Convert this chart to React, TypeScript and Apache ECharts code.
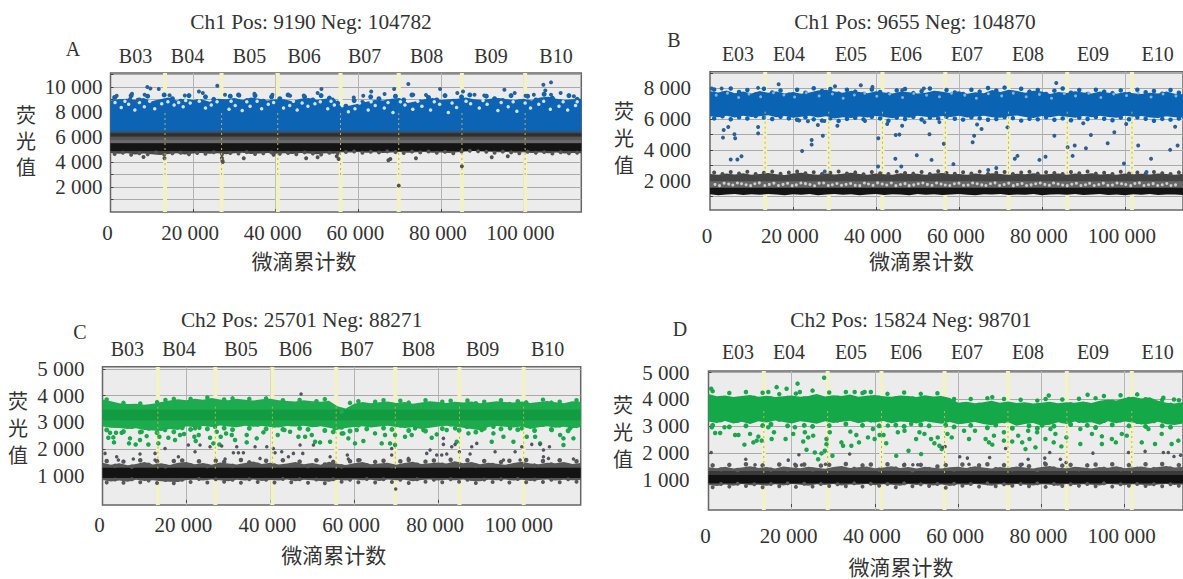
import React, { useEffect, useRef } from "react";
import * as echarts from "echarts";

// ---------- wells ----------
const wellsBF = ["B03", "B04", "B05", "B06", "B07", "B08", "B09", "B10"];
const wellsE = ["E03", "E04", "E05", "E06", "E07", "E08", "E09", "E10"];
const boundsAC = [13200, 26900, 40500, 55700, 69800, 85100, 100400];
const boundsBD = [13290, 28630, 41560, 56710, 71950, 86100, 101700];

// band edges: one value per 2 000 droplets, 0..114 000
const aBlueTop = [8900,9000,9050,8950,9100,8850,9000,9150,8900,9050,8950,9000,8800,9050,9000,9100,8950,9150,9050,8900,9000,9000,8850,9050,9100,8950,9050,9150,8350,8500,8650,8800,8950,8900,9050,9100,8700,8850,9000,9100,8950,9000,9050,9150,9000,8950,9050,9100,9000,8950,9050,8900,9150,9200,9050,8950,9000,9050];
const aGrayBottom = [4720,4650,4700,4600,4680,4620,4560,4640,4700,4590,4680,4720,4650,4700,4620,4690,4730,4640,4680,4710,4650,4700,4640,4720,4680,4610,4700,4650,4780,4760,4800,4740,4780,4720,4760,4800,4730,4770,4790,4740,4760,4720,4780,4830,4870,4840,4810,4770,4790,4740,4780,4720,4760,4700,4750,4680,4720,4700];

const bBlueTop = [7800,7720,7850,7680,7780,7650,7820,7700,7790,7660,7750,7640,7720,7850,7900,7780,7700,7840,7760,7680,7800,7720,7660,7790,7740,7650,7700,7830,7770,7690,7800,7640,7730,7680,7880,7760,7900,7820,7700,7840,7780,7620,7750,7690,7800,7720,7650,7780,7700,7640,7750,7680,7620,7700,7660,7780,7640,7600];
const bBlueBottom = [6180,6120,6210,6100,6220,6130,6180,6240,6120,6190,6080,6140,6220,6100,6180,6040,6120,6060,6160,6100,6200,6130,6050,6170,6090,6210,6150,6100,6190,6130,6220,6100,6170,6220,6120,6080,6180,6230,6130,6060,6190,6110,6220,6150,6080,6190,6120,6210,6130,6090,6220,6140,6190,6100,6060,6180,6120,6090];
const bGrayTop = [2430,2380,2460,2400,2480,2390,2440,2500,2420,2370,2460,2520,2430,2390,2470,2410,2450,2510,2430,2380,2460,2420,2390,2480,2430,2450,2380,2470,2500,2420,2440,2390,2460,2410,2480,2430,2380,2450,2420,2490,2410,2440,2470,2390,2460,2420,2480,2400,2440,2380,2470,2420,2450,2400,2460,2430,2390,2450];
const bBlackBottom = [1120,1060,1110,1140,1070,1120,1090,1130,1100,1060,1120,1090,1130,1060,1110,1130,1090,1120,1060,1110,1130,1080,1120,1100,1060,1130,1090,1120,1070,1110,1130,1090,1060,1120,1100,1130,1070,1110,1090,1130,1060,1110,1120,1090,1130,1070,1100,1130,1080,1110,1060,1120,1090,1130,1070,1110,1100,1080];

const cGreenTop = [3860,3790,3720,3690,3700,3660,3700,3760,3820,3870,3830,3880,3850,3910,3860,3830,3880,3850,3820,3870,3880,3830,3800,3780,3830,3790,3770,3810,3600,3520,3700,3760,3720,3750,3780,3730,3760,3700,3740,3790,3760,3730,3770,3740,3780,3720,3750,3790,3760,3740,3780,3730,3760,3800,3750,3720,3790,3770];
const cGreenBottom = [2850,2800,2790,2760,2780,2720,2700,2680,2760,2720,2860,2820,2870,2830,2890,2850,2820,2880,2840,2870,2830,2810,2870,2850,2880,2820,2860,2800,2730,2790,2830,2860,2810,2850,2880,2830,2790,2820,2760,2800,2850,2880,2840,2800,2760,2710,2830,2870,2840,2810,2850,2760,2820,2860,2800,2840,2780,2830];
const cGrayTop = [1500,1420,1480,1400,1450,1520,1430,1480,1410,1500,1520,1440,1490,1420,1510,1470,1430,1490,1540,1450,1500,1430,1470,1520,1440,1490,1420,1530,1460,1410,1480,1520,1440,1470,1500,1420,1490,1530,1450,1480,1510,1470,1550,1480,1520,1440,1500,1460,1420,1490,1530,1470,1440,1500,1480,1520,1450,1490];
const cGrayBottom = [850,800,830,790,860,820,840,810,790,780,850,860,830,870,840,810,860,830,870,820,850,830,870,810,860,840,820,790,860,830,870,840,860,820,870,840,860,810,850,870,830,860,840,870,820,810,860,840,870,830,860,820,850,870,830,860,840,850];

const dGreenTop = [4200,4120,4150,4090,4130,4170,4100,4140,4090,4120,4150,4100,4130,4200,4110,4160,4130,4190,4100,4140,4170,4120,4100,4150,4130,4090,4160,4110,4130,4060,3880,3920,3860,3900,3950,3880,3930,3870,3900,3850,3880,3920,3860,3900,3880,3930,3870,3950,4000,3960,4060,4100,4040,4080,3950,3880,3850,3900];
const dGreenBottom = [3180,3130,3200,3110,3170,3090,3190,3140,3220,3160,3110,3190,3150,3100,3190,3130,3170,3210,3120,3180,3140,3200,3120,3180,3160,3110,3190,3140,3100,3160,3080,3120,3160,3090,3040,3120,3150,3020,3090,3130,3020,3060,3150,3090,3180,3130,3150,3060,3190,3120,3180,3140,3070,3100,3170,3080,3050,3110];
const dGrayTop = [1480,1440,1500,1430,1470,1520,1450,1490,1430,1510,1470,1440,1500,1460,1420,1490,1530,1450,1480,1510,1440,1470,1520,1450,1490,1430,1500,1460,1430,1480,1500,1450,1520,1470,1430,1490,1450,1510,1470,1430,1490,1530,1460,1440,1500,1470,1430,1490,1460,1520,1440,1480,1510,1450,1490,1530,1470,1500];
const dGrayBottom = [820,780,840,790,860,810,830,790,850,800,860,830,790,850,820,860,800,840,830,860,810,850,830,790,860,820,850,800,840,780,850,820,860,830,790,850,810,860,830,800,850,830,790,860,820,850,830,800,860,840,810,850,830,790,840,860,820,840];

// droplets sitting on a band's fuzzy edge: one amplitude per 2 000 droplets, halfway between edge samples
const aBlueFringe = [9150,8800,9300,8950,9250,8700,9350,9050,8850,9300,8800,9200,9000,8700,9250,9350,8900,9300,8850,9200,9050,9350,8750,9200,8950,9300,9100,8700,8450,8900,8750,9200,9050,8800,9250,8950,9350,8800,9150,8950,9300,8850,9200,9350,8750,9250,9050,8900,9300,8800,9250,8950,9400,9100,8800,9300,9000];
const aGrayFringe = [4640,4740,4580,4700,4620,4760,4600,4690,4740,4620,4710,4660,4770,4620,4720,4680,4780,4640,4700,4750,4650,4720,4620,4760,4670,4600,4730,4690,4790,4830,4740,4810,4760,4840,4780,4720,4820,4760,4830,4730,4800,4690,4830,4890,4850,4810,4740,4820,4760,4700,4810,4730,4780,4670,4770,4700,4740];
const bBlueFringe = [7920,7650,7980,7750,7880,7600,7960,7720,7850,7580,7900,7700,8000,7820,7950,7650,7900,7780,7620,7920,7750,7600,7860,7950,7680,7800,7980,7650,7880,7720,7620,7900,7780,8010,7850,8040,7700,7960,7780,7880,7620,7840,7980,7700,7880,7620,7900,7780,7680,7860,7620,7900,7740,7820,7640,7880,7700];
const bBlueLow = [6040,6180,5990,6120,6030,6200,6090,6000,6150,6040,5950,6120,5980,5900,6050,5880,6010,6080,5980,6150,6040,5890,6090,6000,6140,5970,6090,6040,6150,6020,5960,6120,6050,5950,6000,6130,6060,5900,6020,5980,6120,5950,6040,5920,6090,6000,6130,6020,5920,6100,5990,6120,6020,5890,6010,5960,6030];
const bGrayFringe = [2530,2440,2560,2470,2580,2430,2510,2590,2450,2530,2600,2480,2550,2440,2520,2600,2470,2540,2420,2570,2490,2440,2590,2500,2460,2560,2430,2610,2500,2450,2550,2470,2590,2440,2510,2570,2430,2530,2580,2460,2550,2500,2440,2570,2480,2600,2460,2520,2430,2580,2470,2530,2450,2560,2490,2440,2540];
const cGreenFringe = [3860,3640,3730,3590,3710,3570,3760,3840,3880,3720,3880,3750,3930,3760,3860,3900,3730,3880,3760,3900,3740,3830,3690,3840,3670,3790,3870,3590,3400,3730,3790,3630,3770,3830,3660,3810,3740,3610,3830,3670,3770,3810,3650,3820,3720,3770,3650,3830,3690,3790,3750,3640,3850,3740,3770,3650,3830];
const cGreenLow = [2720,2900,2660,2850,2640,2780,2620,2840,2650,2800,2740,2920,2760,2950,2790,2730,2950,2780,2930,2760,2900,2740,2950,2780,2740,2920,2700,2650,2820,2680,2900,2760,2930,2790,2740,2900,2700,2870,2680,2920,2770,2940,2710,2860,2640,2780,2920,2760,2890,2730,2910,2700,2920,2740,2900,2690,2880];
const cGrayFringe = [1560,1380,1540,1350,1590,1420,1550,1360,1560,1580,1400,1550,1370,1570,1530,1380,1600,1510,1420,1570,1390,1590,1400,1540,1370,1590,1430,1530,1360,1550,1590,1400,1530,1570,1370,1550,1600,1420,1540,1580,1420,1610,1430,1590,1390,1560,1410,1520,1570,1410,1600,1390,1560,1430,1590,1400,1550];
const cGrayLow = [760,870,750,880,770,830,740,850,730,860,780,890,760,880,790,860,750,880,780,860,760,890,770,880,750,870,730,880,790,860,770,890,760,880,780,860,740,880,790,860,770,880,790,860,740,870,780,880,760,890,770,870,780,860,770,880,790];
const dGreenFringe = [4310,4030,4240,4020,4280,4060,4250,4040,4200,4060,4220,4040,4330,4040,4260,4060,4280,4030,4240,4280,4060,4210,4040,4260,4040,4210,4030,4230,3980,4020,3810,4020,3800,4050,3820,4020,3800,3990,3790,3960,4020,3790,4000,3820,4030,3800,4050,4130,3920,4160,4020,4190,4010,3880,3980,3800,3970];
const dGreenLow = [3040,3240,2980,3220,3020,3250,3030,3080,3260,3020,3270,3040,3000,3250,3030,3230,3090,3270,3040,3230,3020,3250,3050,3000,3240,3060,3020,3250,3050,2980,3200,3040,3230,2950,3050,3210,2930,3180,3020,2930,3200,3010,3210,3070,3220,3040,2960,3220,3060,3240,3020,3180,3000,3210,3020,2970,3180];
const dGrayFringe = [1550,1400,1570,1380,1590,1430,1550,1390,1580,1400,1540,1580,1390,1540,1570,1410,1600,1420,1550,1580,1390,1590,1430,1560,1370,1570,1410,1510,1560,1390,1580,1410,1550,1590,1410,1560,1400,1570,1520,1380,1590,1430,1540,1570,1400,1550,1580,1420,1590,1400,1560,1420,1590,1410,1600,1430,1560];
const dGrayLow = [740,860,760,870,780,850,740,860,770,880,750,870,760,860,780,850,770,880,760,870,790,860,740,880,770,850,780,860,720,870,790,860,760,880,770,850,790,860,770,880,750,860,780,850,790,860,770,880,760,850,790,860,780,850,770,850,790];

// droplets readable outside the bands: [count, amplitude]
const aPosDots = [[8910,9980],[9650,9870],[11690,9820],[5210,9450],[8270,9370],[4740,9020],[6600,8970],[21420,9630],[22350,9500],[25870,10090],[27720,9370],[34860,9450],[39210,9370],[51070,9820],[50150,9500],[63120,9630],[68680,9820],[66360,9420],[72110,10220],[79800,9820],[73310,9370],[83970,9500],[85360,9630],[88140,9370],[95370,9770],[97870,9500],[104820,10170],[106670,10350],[105280,9710],[106670,9370],[108990,9500],[102500,9370],[1500,9280],[14300,9330],[18000,9310],[31200,9300],[43500,9290],[46800,9300],[58900,9150],[61200,9280],[76400,9340],[90500,9300],[100500,9290],[112200,9250]];
const aGapDots = [[2600,8350],[4400,8600],[5900,8150],[8200,8400],[10700,8250],[12400,8650],[15400,8550],[16500,8750],[17600,8400],[19300,8700],[23000,8300],[24400,8550],[28700,8200],[30200,8500],[31900,8100],[33800,8450],[36600,8250],[38200,8600],[41900,8300],[43400,8500],[45200,8150],[47800,8450],[49500,8650],[52600,8250],[54200,8550],[57600,8000],[59200,8250],[62400,8150],[64100,8500],[66300,8300],[68400,7950],[71300,8550],[73200,8200],[75400,8450],[77500,8150],[79700,8600],[81800,7950],[83800,8350],[87200,8650],[89300,8300],[91200,8600],[93800,8100],[96300,8400],[98400,8050],[101700,8300],[103700,8600],[106500,8200],[108600,8450],[110700,8150],[112600,8500],
[1100,8750],[3500,8850],[7000,8750],[9500,8850],[13900,8800],[18200,8900],[21500,8850],[25800,8800],[29200,8850],[33000,8800],[35500,8850],[39500,8750],[44300,8850],[46400,8700],[50800,8800],[53400,8850],[60300,8700],[63100,8800],[67200,8750],[70200,8800],[74400,8850],[78400,8800],[82700,8700],[86100,8850],[90200,8900],[94600,8750],[97500,8800],[100400,8700],[104900,8850],[109600,8800],[113000,8800]];
const aNegDots = [[7990,4394],[13080,4288],[26980,4314],[27170,3995],[27100,4100],[32270,4288],[47370,4288],[50150,4367],[55240,4234],[67750,4234],[67290,4128],[73960,4288],[85080,3650],[69800,2106],[92310,4367],[96200,4447],[39490,4580],[54780,4447]];

const bPosDots = [[3300,5290],[4400,5480],[3130,4795],[5890,5010],[6070,4750],[5000,3380],[6600,3380],[7590,3590],[11600,5480],[11600,5070],[22200,3930],[24500,4640],[24500,4340],[27200,4920],[26000,5610],[27550,5870],[30700,5570],[37360,5870],[40570,4750],[40500,2920],[42700,5680],[44760,4970],[45650,4990],[46300,5570],[44670,3420],[46100,2920],[49840,3650],[51700,5800],[52900,5010],[53400,3350],[55280,5800],[56350,4390],[58670,3075],[63300,4490],[63660,4920],[64370,5650],[65450,5350],[67050,2690],[69000,2820],[71700,5460],[74100,3610],[73460,3420],[79400,3350],[80870,3550],[83000,4920],[83450,8340],[86200,4170],[87900,4280],[87400,3610],[90600,4100],[91800,4970],[89960,5720],[95850,4430],[97450,5140],[99770,3120],[100300,5680],[103200,4280],[106300,3420],[105200,2560],[110900,4000],[112700,4280],[112100,5500],[16540,8256],[30120,8130],[36350,8190],[39150,8085],[400,7977],[2800,7977],[11580,8020],[51530,7977],[46340,7870],[27650,2600],[21500,5900],[23600,5850]];
const bGapDots = [[1500,7550],[4200,7680],[6900,7400],[9400,7620],[12200,7450],[15300,7700],[17800,7560],[20400,7430],[23200,7700],[26300,7500],[29500,7620],[32100,7350],[34800,7560],[37300,7680],[40200,7480],[43300,7620],[46400,7400],[49100,7660],[52200,7540],[55300,7450],[58200,7680],[61400,7550],[64200,7350],[67100,7640],[70300,7500],[73100,7680],[76200,7450],[79400,7600],[82300,7350],[85400,7650],[88100,7500],[91300,7680],[94200,7400],[97300,7620],[100400,7520],[103200,7690],[106300,7430],[109200,7620],[112300,7500]];
const bMidGaps = [[1200,1760],[3400,1840],[5500,1720],[7600,1800],[9800,1680],[11900,1860],[14300,1760],[16500,1690],[18700,1830],[20800,1730],[23000,1810],[25200,1670],[27400,1850],[29500,1740],[31700,1700],[33900,1820],[36100,1680],[38200,1790],[40400,1860],[42600,1720],[44800,1680],[47000,1810],[49100,1730],[51300,1850],[53500,1700],[55700,1780],[57800,1690],[60000,1840],[62200,1720],[64400,1800],[66500,1690],[68700,1860],[70900,1750],[73100,1680],[75200,1820],[77400,1730],[79600,1850],[81800,1700],[83900,1790],[86100,1680],[88300,1830],[90500,1740],[92600,1690],[94800,1840],[97000,1720],[99200,1800],[101400,1680],[103500,1860],[105700,1740],[107900,1690],[110100,1820],[112200,1730],
[2300,1680],[4500,1780],[6600,1850],[8700,1740],[10800,1800],[13200,1690],[15400,1840],[17600,1760],[19800,1680],[21900,1850],[24100,1750],[26300,1840],[28500,1690],[30600,1820],[32800,1760],[35000,1700],[37200,1850],[39300,1700],[41500,1790],[43700,1850],[45900,1750],[48000,1680],[50200,1800],[52400,1760],[54600,1850],[56700,1720],[58900,1800],[61100,1700],[63300,1850],[65500,1730],[67600,1800],[69800,1690],[72000,1840],[74100,1760],[76300,1690],[78500,1800],[80700,1760],[82800,1850],[85000,1720],[87200,1770],[89400,1690],[91500,1830],[93700,1750],[95900,1700],[98100,1850],[100200,1750],[102400,1820],[104600,1690],[106800,1810],[109000,1740],[111100,1690]];

const cGreenDots = [[1790,2617],[2580,2443],[3220,2617],[4570,2617],[1390,2430],[2740,2256],[6560,2406],[6320,2220],[7910,2180],[9340,2655],[10530,2490],[8940,2343],[10930,2180],[13560,2468],[14910,2717],[15700,2430],[13320,2220],[18480,2530],[17290,2343],[19440,2567],[22060,2780],[21900,2468],[23100,2800],[22940,2530],[22220,2306],[25640,2430],[26830,2840],[27230,2655],[28180,2468],[29460,2590],[26430,2220],[27870,2180],[30810,2530],[31600,2343],[34380,2530],[34380,2256],[38360,2630],[36770,2406],[41780,2530],[43370,2717],[44720,2655],[46700,2468],[48300,2468],[49890,2530],[50680,2281],[51870,2256],[54260,2281],[55450,2780],[57040,2590],
[57420,2592],[58610,2406],[60200,2219],[60600,2717],[62190,2306],[64970,2592],[66560,2219],[67350,2530],[68550,2219],[69740,2530],[69740,2157],[72120,2468],[73710,2530],[74510,2779],[76500,2717],[79680,2555],[78480,2430],[82060,2717],[84050,2779],[84450,2281],[86830,2841],[87230,2592],[90410,2717],[93190,2841],[93190,2592],[92790,2281],[95580,2468],[97170,2779],[97960,2281],[99950,2779],[101140,2468],[103130,2468],[104320,2219],[107100,2717],[109090,2530],[109890,2406],[111480,2779],[112270,2406],[109890,2157]];
const cDarkDots = [[600,1846],[3380,1721],[3780,1597],[8940,1821],[7350,1634],[12520,1846],[12520,1597],[14910,2032],[18090,1721],[22060,1908],[25640,2095],[29220,1634],[31200,1871],[32400,1871],[33590,1871],[37560,1659],[40740,2032],[41140,1871],[42730,1908],[44320,1721],[45510,1846],[47740,1846],[47100,2157],[50280,2157],[54260,1721],[20470,2157],[23250,2157],[28420,2120],[32000,2095],[36370,2095],[39160,2095],[47340,4060],[58370,1784],[58610,1634],[61390,1597],[68940,2032],[68940,1784],[72920,1659],[77290,1846],[78090,1970],[79680,1784],[80870,1784],[82060,1821],[83250,2095],[84050,2182],[85080,1908],[87630,1821],[89220,2219],[93590,1908],[95580,1597],[98360,1908],[99550,1597],[99950,2095],[102330,2182],[105120,1970],[105120,1721],[106310,1659],[104320,2182],[106550,2095],[112270,1634],[69900,515],[81270,2406],[81270,2182],[88020,2095]];

const dGreenDots = [[650,4400],[16370,4460],[18760,4400],[21400,4590],[27780,4810],[14370,4280],[37510,4280],[35120,4280],[21950,4280],[810,2970],[1600,2755],[2800,2755],[3840,2970],[6390,2680],[7190,2680],[9980,2720],[8630,2320],[10780,2405],[11980,2620],[11580,2470],[12780,2470],[14370,2970],[15730,2780],[15170,2530],[18520,2530],[20360,2720],[20760,2970],[23150,2780],[22750,2440],[23950,2590],[25150,2655],[23550,2130],[25540,2030],[27140,1995],[26340,1780],[28340,2340],[29140,2780],[28340,2530],[27940,2095],[29770,1910],[31930,2405],[32330,2280],[34320,2280],[34080,2805],[35520,2680],[36160,2405],[38310,2590],[39910,2530],[41110,2680],[42060,2680],[42700,2370],[39510,2905],[43100,3030],[45490,2780],[47090,2840],[48690,3090],[49880,2530],[50680,2780],[51880,2720],[53470,2530],[55070,2590],[54270,2370],[55470,2280],[56030,2155],[48050,2095],[45100,1905],[51080,1970],
[57410,2720],[58440,2590],[61400,2840],[62590,2530],[64030,2840],[66580,2530],[67380,2405],[68180,2320],[68580,2655],[70970,2780],[70970,2470],[72970,2440],[74400,2655],[75360,2405],[76160,2155],[76800,2840],[77120,2530],[78950,2780],[78550,2220],[80150,3030],[80950,2530],[82150,2905],[83340,2720],[82940,2405],[84780,2255],[85970,2590],[89330,2345],[89330,2905],[92120,2720],[94510,2630],[94510,2345],[96910,2530],[97870,2405],[99300,2720],[100500,2655],[104090,2405],[107280,2345],[105690,2905],[108880,2720],[111270,2345],[112870,2470],[81750,4150],[91080,4175],[109280,4065],[111830,4000],[68180,4090]];
const dDarkDots = [[650,2030],[8950,1780],[19160,1745],[21710,1945],[33920,1970],[20760,1595],[22350,1560],[11180,1570],[47090,1595],[49090,1570],[50280,1570],[28100,1595],[56210,2220],[56850,2255],[60360,1870],[62200,1820],[62590,1595],[67540,1845],[71370,2180],[76800,1780],[80790,1820],[80790,1635],[75360,1595],[81980,2030],[84540,1780],[85900,1660],[92360,2005],[100900,2030],[104890,2070],[109280,2030],[110470,2030],[111830,1880],[113430,1930]];

// ---------- layout ----------
const FONT = '"Liberation Serif", "Noto Sans CJK SC", serif';
const INK = "#333333";
const STEP = 2000;
const fmt = (v: number) => String(v).replace(/\B(?=(\d{3})+$)/g, " ");
const fringe = (vals: number[]) => vals.map((y, k) => [k * STEP + STEP / 2, y]);

type Band = { low: number[] | number; high: number[] | number; color: string; opacity?: number };
type Panel = {
  grid: { left: number; top: number; width: number; height: number };
  yRange: [number, number];
  yTicks: number[];
  yLabels: number[];
  xLabelGap: number;
  yLabelGap: number;
  bounds: number[];
  bands: Band[];
  dots: { data: number[][]; color: string; size: number }[];
};

const x20 = [0, 20000, 40000, 60000, 80000, 100000];
const thousands = (top: number) => { const o: number[] = []; for (let v = 1000; v <= top; v += 1000) o.push(v); return o; };

const panels: Panel[] = [
  {
    grid: { left: 110.5, top: 73, width: 470.8, height: 139 },
    yRange: [0, 11100], yTicks: thousands(11000), yLabels: [2000, 4000, 6000, 8000, 10000],
    xLabelGap: 10, yLabelGap: 8, bounds: boundsAC,
    bands: [
      { low: 6000, high: aBlueTop, color: "#0d64b4" },
      { low: aGrayBottom, high: 6430, color: "#484848" },
      { low: 5770, high: 6030, color: "#565656" },
      { low: 5500, high: 5770, color: "#6a6a6a" },
      { low: 4880, high: 5500, color: "#141414" },
      { low: 6030, high: 6290, color: "#2f2f2f" },
    ],
    dots: [
      { data: fringe(aBlueFringe), color: "#0d64b4", size: 5 },
      { data: fringe(aGrayFringe), color: "#555555", size: 4 },
      { data: aGapDots, color: "#cfe3f2", size: 3.5 },
      { data: aPosDots, color: "#2c5f92", size: 4 },
      { data: aNegDots, color: "#505050", size: 4 },
    ],
  },
  {
    grid: { left: 710, top: 71.7, width: 475.4, height: 138.3 },
    yRange: [100, 9070], yTicks: thousands(9000), yLabels: [2000, 4000, 6000, 8000],
    xLabelGap: 15, yLabelGap: 19, bounds: boundsBD,
    bands: [
      { low: bBlueBottom, high: bBlueTop, color: "#0b63b3" },
      { low: 1500, high: 2000, color: "#666666" },
      { low: 1960, high: bGrayTop, color: "#444444" },
      { low: bBlackBottom, high: 1540, color: "#141414" },
    ],
    dots: [
      { data: fringe(bBlueFringe), color: "#0b63b3", size: 4.5 },
      { data: fringe(bBlueLow), color: "#0b63b3", size: 4.5 },
      { data: fringe(bGrayFringe), color: "#4c4c4c", size: 4 },
      { data: bGapDots, color: "#7fb4e0", size: 3 },
      { data: bMidGaps, color: "#cfcfcf", size: 3 },
      { data: bPosDots, color: "#2c5f92", size: 4 },
    ],
  },
  {
    grid: { left: 102.5, top: 366.7, width: 478.2, height: 138.3 },
    yRange: [-80, 5080], yTicks: thousands(5000), yLabels: [1000, 2000, 3000, 4000, 5000],
    xLabelGap: 9, yLabelGap: 18, bounds: boundsAC,
    bands: [
      { low: cGreenBottom, high: cGreenTop, color: "#1cab4d" },
      { low: 3080, high: 3470, color: "#10983f", opacity: 0.85 },
      { low: cGrayBottom, high: cGrayTop, color: "#575757" },
      { low: 930, high: 1310, color: "#131313" },
    ],
    dots: [
      { data: fringe(cGreenFringe), color: "#1cab4d", size: 4.5 },
      { data: fringe(cGreenLow), color: "#1cab4d", size: 5 },
      { data: fringe(cGrayFringe), color: "#575757", size: 4.5 },
      { data: fringe(cGrayLow), color: "#575757", size: 4 },
      { data: cGreenDots, color: "#1aa74c", size: 4.5 },
      { data: cDarkDots, color: "#505560", size: 3.5 },
    ],
  },
  {
    grid: { left: 708.5, top: 371, width: 476, height: 139 },
    yRange: [-110, 5060], yTicks: thousands(5000), yLabels: [1000, 2000, 3000, 4000, 5000],
    xLabelGap: 15, yLabelGap: 19, bounds: boundsBD,
    bands: [
      { low: dGreenBottom, high: dGreenTop, color: "#14a848" },
      { low: dGrayBottom, high: dGrayTop, color: "#5a5a5a" },
      { low: 860, high: 1340, color: "#3a3a3a" },
      { low: 890, high: 1190, color: "#111111" },
    ],
    dots: [
      { data: fringe(dGreenFringe), color: "#14a848", size: 4.5 },
      { data: fringe(dGreenLow), color: "#14a848", size: 5 },
      { data: fringe(dGrayFringe), color: "#5a5a5a", size: 4.5 },
      { data: fringe(dGrayLow), color: "#5a5a5a", size: 4 },
      { data: dGreenDots, color: "#1aa74c", size: 4.5 },
      { data: dDarkDots, color: "#505560", size: 3.5 },
    ],
  },
];

type Note = { text: string; x: number; y: number; lh?: number; size?: number };
const notes: Note[] = [
  { text: "Ch1 Pos: 9190 Neg: 104782", x: 311, y: 22, size: 21.3 },
  { text: "Ch1 Pos: 9655 Neg: 104870", x: 915, y: 22, size: 21.3 },
  { text: "Ch2 Pos: 25701 Neg: 88271", x: 301.6, y: 320, size: 21.3 },
  { text: "Ch2 Pos: 15824 Neg: 98701", x: 911, y: 320, size: 21.3 },
  { text: "A", x: 73, y: 49 }, { text: "B", x: 674, y: 40 }, { text: "C", x: 80, y: 332 }, { text: "D", x: 680, y: 329 },
  { text: "微滴累计数", x: 304, y: 262, size: 21 }, { text: "微滴累计数", x: 921.6, y: 262, size: 21 },
  { text: "微滴累计数", x: 333.7, y: 556, size: 21 }, { text: "微滴累计数", x: 901, y: 568, size: 21 },
  { text: "荧\n光\n值", x: 26, y: 142, lh: 26 }, { text: "荧\n光\n值", x: 624, y: 139, lh: 27 },
  { text: "荧\n光\n值", x: 18, y: 429, lh: 27 }, { text: "荧\n光\n值", x: 623, y: 433, lh: 27 },
];
const wellTextX = [
  [135.5, 187.5, 249.5, 304.2, 364.7, 426.7, 491, 556],
  [738, 789, 851, 906, 967, 1028, 1093, 1157.6],
  [127.4, 179, 241, 295.4, 357, 418.3, 482.6, 547.6],
  [738, 789, 851, 906, 967, 1028, 1093, 1157.6],
];
const wellTextY = [56, 54, 349.3, 352];
const wellNames = [wellsBF, wellsE, wellsBF, wellsE];

function bandSeries(i: number, b: Band, z: number) {
  const n = 58;
  const at = (e: number[] | number, k: number) => (Array.isArray(e) ? e[k] : e);
  const rows = Array.from({ length: n }, (_, k) => [Math.min(k * STEP, 114000), at(b.low, k), at(b.high, k)]);
  return {
    type: "custom", xAxisIndex: i, yAxisIndex: i, z, silent: true, clip: true,
    data: rows,
    encode: { x: 0, y: [1, 2] },
    renderItem: (p: any, api: any) => {
      if (p.dataIndex !== 0) return null;
      const top = rows.map((r) => api.coord([r[0], r[2]]));
      const bot = rows.map((r) => api.coord([r[0], r[1]])).reverse();
      return {
        type: "polygon",
        shape: { points: top.concat(bot) },
        style: { fill: b.color, opacity: b.opacity ?? 1 },
      };
    },
  };
}

function boundSeries(i: number, bounds: number[], kind: "band" | "line", z: number) {
  return {
    type: "custom", xAxisIndex: i, yAxisIndex: i, z, silent: true, clip: true,
    data: bounds.map((v) => [v]),
    encode: { x: 0 },
    renderItem: (p: any, api: any) => {
      const cx = api.coord([api.value(0), 1000])[0];
      const r = p.coordSys;
      if (kind === "band")
        return { type: "rect", shape: { x: cx - 2, y: r.y, width: 4, height: r.height }, style: { fill: "#f3f1c6" } };
      return {
        type: "line", shape: { x1: cx, y1: r.y + 40, x2: cx, y2: r.y + 105 },
        style: { stroke: "#b9b74e", lineWidth: 1, lineDash: [2, 3] },
      };
    },
  };
}

export default function App() {
  const ref = useRef<HTMLDivElement>(null);
  useEffect(() => {
    document.body.style.margin = "0";
    const chart = echarts.init(ref.current!, null, { renderer: "svg" });
    const txt = (text: string, x: number, y: number, lh?: number, size = 20) => ({
      type: "text", x, y, silent: true,
      style: { text, x: 0, y: 0, fill: INK, font: `${size}px ${FONT}`, align: "center", verticalAlign: "middle", lineHeight: lh ?? 22 },
    });
    chart.setOption({
      animation: false,
      backgroundColor: "#ffffff",
      textStyle: { fontFamily: FONT },
      grid: panels.map((p) => ({ ...p.grid, show: true, backgroundColor: "#ececec", borderColor: "#666666", borderWidth: 1.5, containLabel: false })),
      xAxis: panels.map((p, i) => ({
        type: "value", gridIndex: i, min: 0, max: 114000, position: "bottom",
        axisLine: { show: false },
        axisTick: { show: true, inside: true, length: 3, customValues: x20.slice(1), lineStyle: { color: "#444" } },
        axisLabel: { show: true, customValues: x20, margin: p.xLabelGap, color: INK, fontSize: 21, fontFamily: FONT, padding: [0, 6, 0, 0], formatter: (v: number) => fmt(v), hideOverlap: false, showMinLabel: true, showMaxLabel: true },
        splitLine: { show: true, lineStyle: { color: "#b4b4b4", width: 1 } },
      })),
      yAxis: panels.map((p, i) => ({
        type: "value", gridIndex: i, min: p.yRange[0], max: p.yRange[1],
        axisLine: { show: false },
        axisTick: { show: true, inside: true, length: 3, customValues: p.yTicks, lineStyle: { color: "#444" } },
        axisLabel: { show: true, customValues: p.yLabels, margin: p.yLabelGap, color: INK, fontSize: 21, fontFamily: FONT, formatter: (v: number) => fmt(v), showMinLabel: true, showMaxLabel: true },
        splitLine: { show: true, lineStyle: { color: "#a9a9a9", width: 1 } },
      })),
      series: panels.flatMap((p, i) => [
        boundSeries(i, p.bounds, "band", 1),
        ...p.bands.map((b, k) => bandSeries(i, b, 2 + k)),
        ...p.dots.map((d, k) => ({
          type: "scatter", xAxisIndex: i, yAxisIndex: i, z: 10 + k,
          symbol: "circle", symbolSize: d.size, silent: true,
          itemStyle: { color: d.color, opacity: 1 }, data: d.data,
        })),
        boundSeries(i, p.bounds, "line", 20),
      ]),
      graphic: [
        ...notes.map((n) => txt(n.text, n.x, n.y, n.lh, n.size)),
        ...wellNames.flatMap((names, i) => names.map((s, k) => txt(s, wellTextX[i][k], wellTextY[i]))),
      ],
    });
    return () => chart.dispose();
  }, []);
  return <div ref={ref} style={{ position: "absolute", left: 0, top: 0, width: 1183, height: 579, overflow: "hidden" }} />;
}
